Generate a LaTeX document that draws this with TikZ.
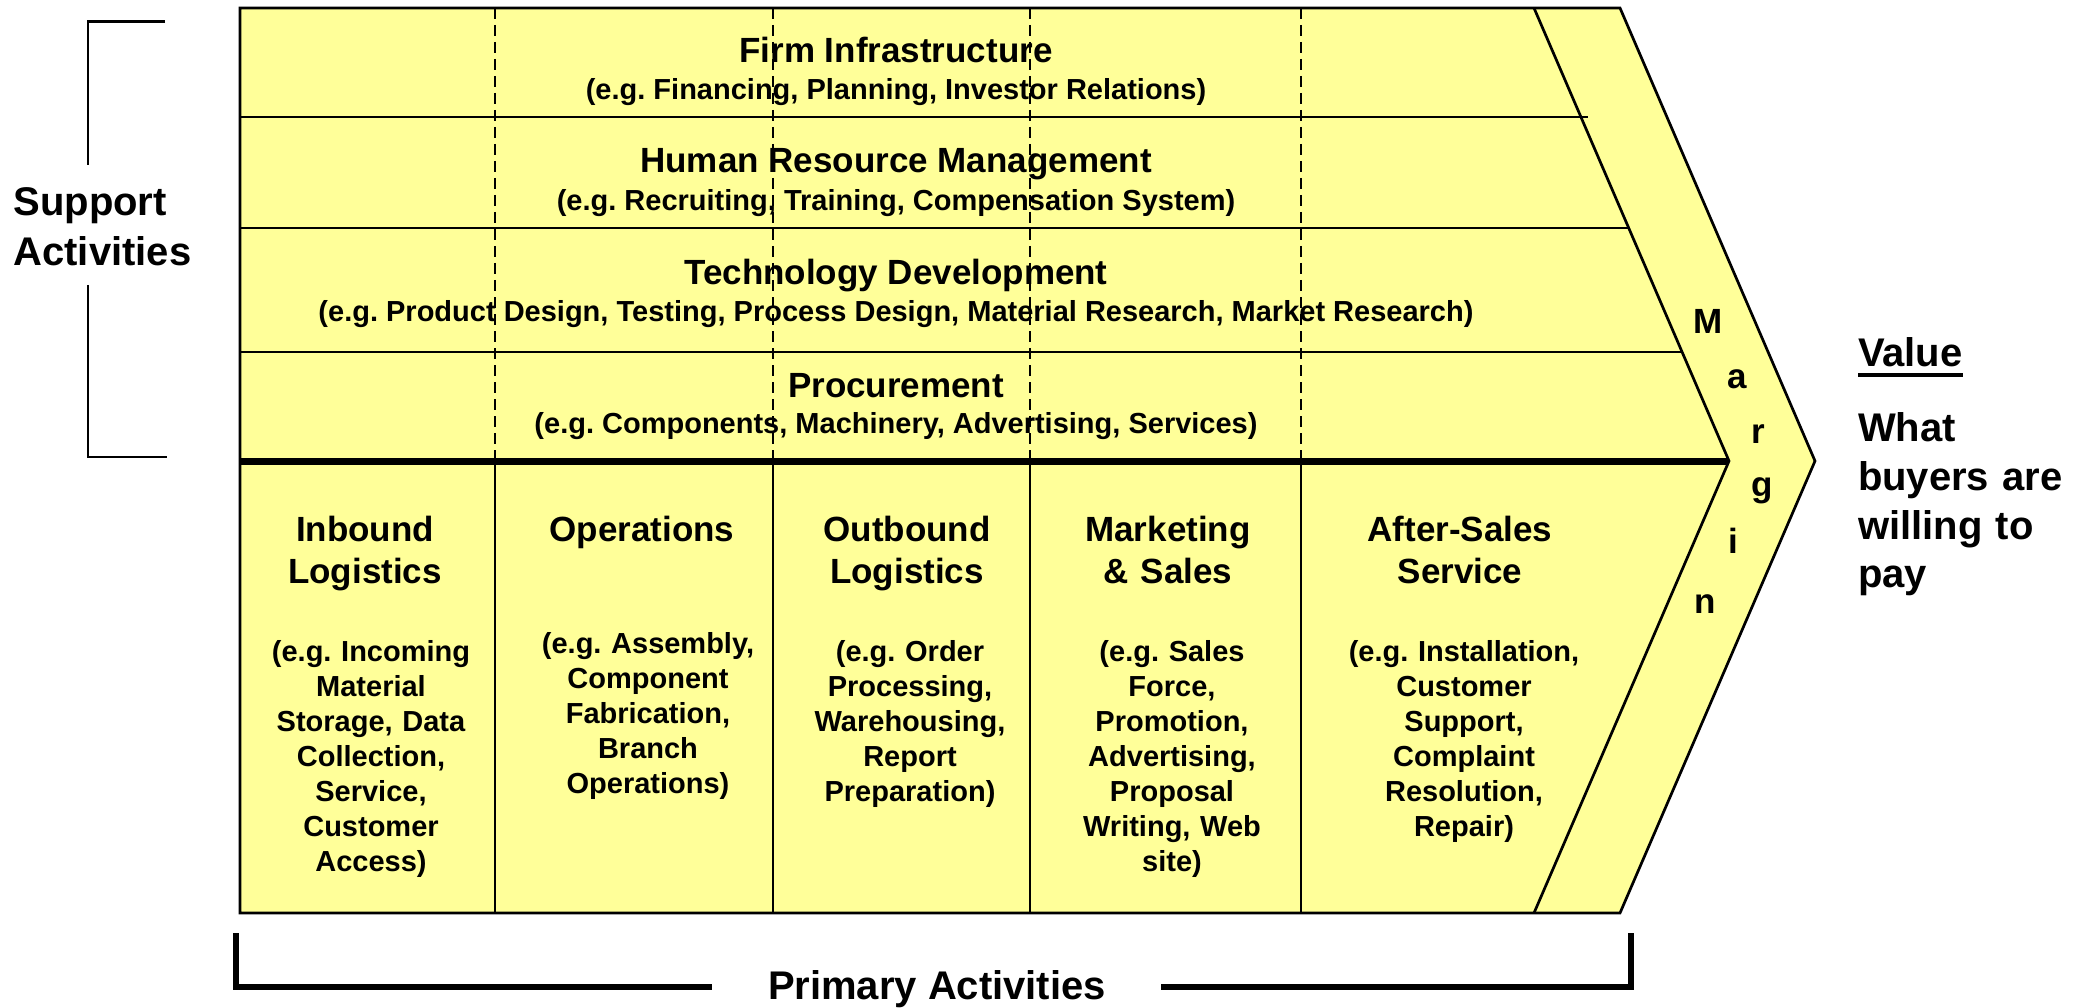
\documentclass[tikz,border=0pt]{standalone}
\usepackage{fontspec}
\setmainfont{Liberation Sans}
\definecolor{vcyellow}{HTML}{FFFF99}
\frenchspacing
\begin{document}
\frenchspacing
\begin{tikzpicture}[x=1pt,y=-1pt,
  thinline/.style={line width=2.7pt},
  thickline/.style={line width=7pt},
  dashline/.style={line width=2.6pt, dash pattern=on 11pt off 6pt},
  bracketthin/.style={line width=2.7pt},
  bracketthick/.style={line width=6pt},
  txt/.style={inner sep=0pt, outer sep=0pt},
  titlef/.style={font={\fontsize{35}{42}\selectfont\bfseries\frenchspacing}},
  descf/.style={font={\fontsize{29}{35}\selectfont\bfseries\frenchspacing}},
  bigf/.style={font={\fontsize{40}{50}\selectfont\bfseries}},
  valf/.style={font={\fontsize{40}{48.7}\selectfont\bfseries}},
  one/.style={txt, anchor=base},
  multi/.style={txt, anchor=base, align=center, text width=400pt},
]
\useasboundingbox (0,0) rectangle (2074,1008);

% key points of the chain
\coordinate (TL) at (240,8);
\coordinate (TR) at (1620,8);
\coordinate (TIP) at (1815,461);
\coordinate (BR) at (1620,913);
\coordinate (BL) at (240,913);
\coordinate (ITop) at (1534,8);
\coordinate (ITip) at (1729,461);
\coordinate (IBot) at (1534,913);

\fill[vcyellow] (TL) -- (TR) -- (TIP) -- (BR) -- (BL) -- cycle;

% support rows separators
\coordinate (r1L) at (240,117);  \coordinate (r1R) at (1588,117);
\coordinate (r2L) at (240,228);  \coordinate (r2R) at (1628.7,228);
\coordinate (r3L) at (240,352);  \coordinate (r3R) at (1682.1,352);
\coordinate (r4L) at (240,461);
\draw[thinline] (r1L) -- (r1R);
\draw[thinline] (r2L) -- (r2R);
\draw[thinline] (r3L) -- (r3R);

% column separators
\foreach \cx/\nm in {495/a,773/b,1030/c,1301/d}{
  \coordinate (ct\nm) at (\cx,8);
  \coordinate (cm\nm) at (\cx,461);
  \coordinate (cb\nm) at (\cx,913);
  \draw[dashline] (ct\nm) -- (cm\nm);
  \draw[thinline] (cm\nm) -- (cb\nm);
}

\draw[thickline] (r4L) -- (ITip);
\draw[thinline, line join=miter] (TL) -- (TR) -- (TIP) -- (BR) -- (BL) -- cycle;
\draw[thinline, line join=miter] (ITop) -- (ITip) -- (IBot);

% support activities text
\node[one, titlef] (fiT) at (896,63) {Firm Infrastructure};
\node[one, descf] (fiD) at (896,100) {(e.g. Financing, Planning, Investor Relations)};
\node[one, titlef] (hrT) at (896,173) {Human Resource Management};
\node[one, descf] (hrD) at (896,211) {(e.g. Recruiting, Training, Compensation System)};
\node[one, titlef] (tdT) at (896,285) {Technology Development};
\node[one, descf] (tdD) at (896,321) {(e.g. Product Design, Testing, Process Design, Material Research, Market Research)};
\node[one, titlef] (prT) at (896,397) {Procurement};
\node[one, descf] (prD) at (896,433) {(e.g. Components, Machinery, Advertising, Services)};

% primary activities text
\node[multi, titlef] (c1T) at (365,541) {Inbound\\Logistics};
\node[multi, descf] (c1D) at (371,661) {(e.g. Incoming\\Material\\Storage, Data\\Collection,\\Service,\\Customer\\Access)};
\node[multi, titlef] (c2T) at (642,541) {Operations};
\node[multi, descf] (c2D) at (648,653) {(e.g. Assembly,\\Component\\Fabrication,\\Branch\\Operations)};
\node[multi, titlef] (c3T) at (907,541) {Outbound\\Logistics};
\node[multi, descf] (c3D) at (910,661) {(e.g. Order\\Processing,\\Warehousing,\\Report\\Preparation)};
\node[multi, titlef] (c4T) at (1168,541) {Marketing\\\& Sales};
\node[multi, descf] (c4D) at (1172,661) {(e.g. Sales\\Force,\\Promotion,\\Advertising,\\Proposal\\Writing, Web\\site)};
\node[multi, titlef] (c5T) at (1460,541) {After-Sales\\Service};
\node[multi, descf] (c5D) at (1464,661) {(e.g. Installation,\\Customer\\Support,\\Complaint\\Resolution,\\Repair)};

% margin letters
\node[one, titlef] (mM) at (1708,333) {M};
\node[one, titlef] (mA) at (1737.5,388) {a};
\node[one, titlef] (mR) at (1758,443) {r};
\node[one, titlef] (mG) at (1762,496) {g};
\node[one, titlef] (mI) at (1733,553) {i};
\node[one, titlef] (mN) at (1705,613) {n};

% left bracket
\node[txt, bigf, anchor=base west, align=left, text width=300pt] (sup) at (13.5,216) {Support\\Activities};
\coordinate (lb1) at (165,21.5);
\coordinate (lb2) at (88,21.5);
\coordinate (lb3) at (88,165);
\coordinate (lb4) at (88,285);
\coordinate (lb5) at (88,457);
\coordinate (lb6) at (167,457);
\draw[bracketthin] (lb1) -- (lb2) -- (lb3);
\draw[bracketthin] (lb4) -- (lb5) -- (lb6);

% bottom bracket
\node[one, bigf] (prim) at (937,999) {Primary Activities};
\coordinate (bb1) at (236,933);
\coordinate (bb2) at (236,987);
\coordinate (bb3) at (712,987);
\coordinate (bb4) at (1161,987);
\coordinate (bb5) at (1631,987);
\coordinate (bb6) at (1631,933);
\draw[bracketthick, line join=miter] (bb1) -- (bb2) -- (bb3);
\draw[bracketthick, line join=miter] (bb4) -- (bb5) -- (bb6);

% value
\node[txt, valf, anchor=base west] (val) at (1858,366) {Value};
\draw[line width=3.3pt] ([yshift=-9pt]val.base west) -- ([yshift=-9pt]val.base east);
\node[txt, valf, anchor=base west, align=left, text width=300pt] (wbp) at (1858,441.7) {What\\buyers are\\willing to\\pay};
\end{tikzpicture}
\end{document}
